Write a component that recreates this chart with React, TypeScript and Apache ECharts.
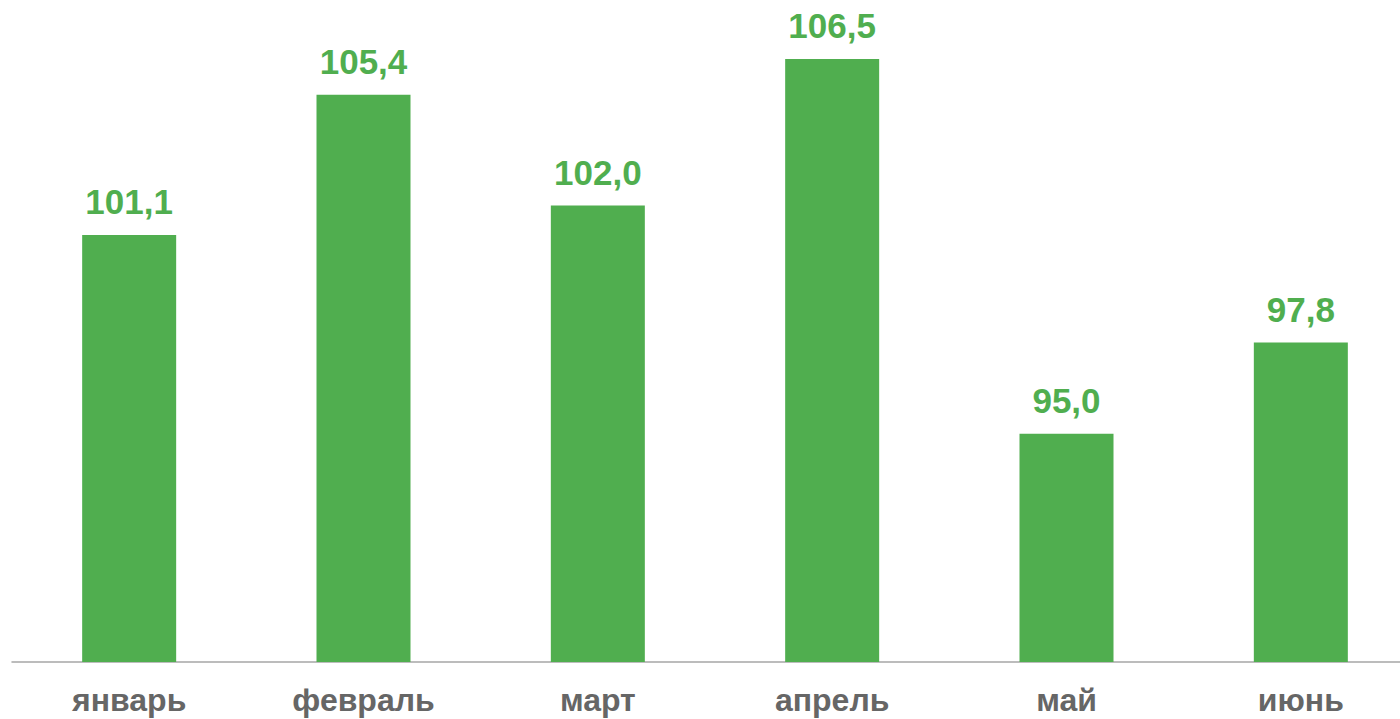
import React, { useEffect, useRef } from "react";
import * as echarts from "echarts";

const categories = ["январь", "февраль", "март", "апрель", "май", "июнь"];
const values = [101.1, 105.4, 102.0, 106.5, 95.0, 97.8];

export default function App() {
  const ref = useRef<HTMLDivElement>(null);
  useEffect(() => {
    const chart = echarts.init(ref.current!, null, { renderer: "svg" });
    chart.setOption({
      animation: false,
      grid: { left: 12, right: 2, top: 10, bottom: 57, containLabel: false, outerBoundsMode: "none" },
      xAxis: {
        type: "category",
        data: categories,
        axisLine: { lineStyle: { color: "#A6A6A6", width: 1.5 } },
        axisTick: { show: false },
        axisLabel: {
          color: "#666666",
          fontFamily: "Liberation Sans, Arial, sans-serif",
          fontWeight: "bold",
          fontSize: 32,
          margin: 22,
        },
      },
      yAxis: {
        type: "value",
        min: 88,
        max: 108,
        show: false,
        splitLine: { show: false },
      },
      series: [
        {
          type: "bar",
          data: values,
          barWidth: 94,
          itemStyle: { color: "#50AE4F" },
          label: {
            show: true,
            position: "top",
            distance: 16,
            color: "#50AE4F",
            fontFamily: "Liberation Sans, Arial, sans-serif",
            fontWeight: "bold",
            fontSize: 35,
            formatter: (p: any) => p.value.toFixed(1).replace(".", ","),
          },
        },
      ],
    });
    return () => chart.dispose();
  }, []);
  return (
    <div
      style={{ position: "fixed", left: 0, top: 0, width: 1400, height: 719, overflow: "hidden", background: "#fff" }}
    >
      <div ref={ref} style={{ width: 1420, height: 719 }} />
    </div>
  );
}
